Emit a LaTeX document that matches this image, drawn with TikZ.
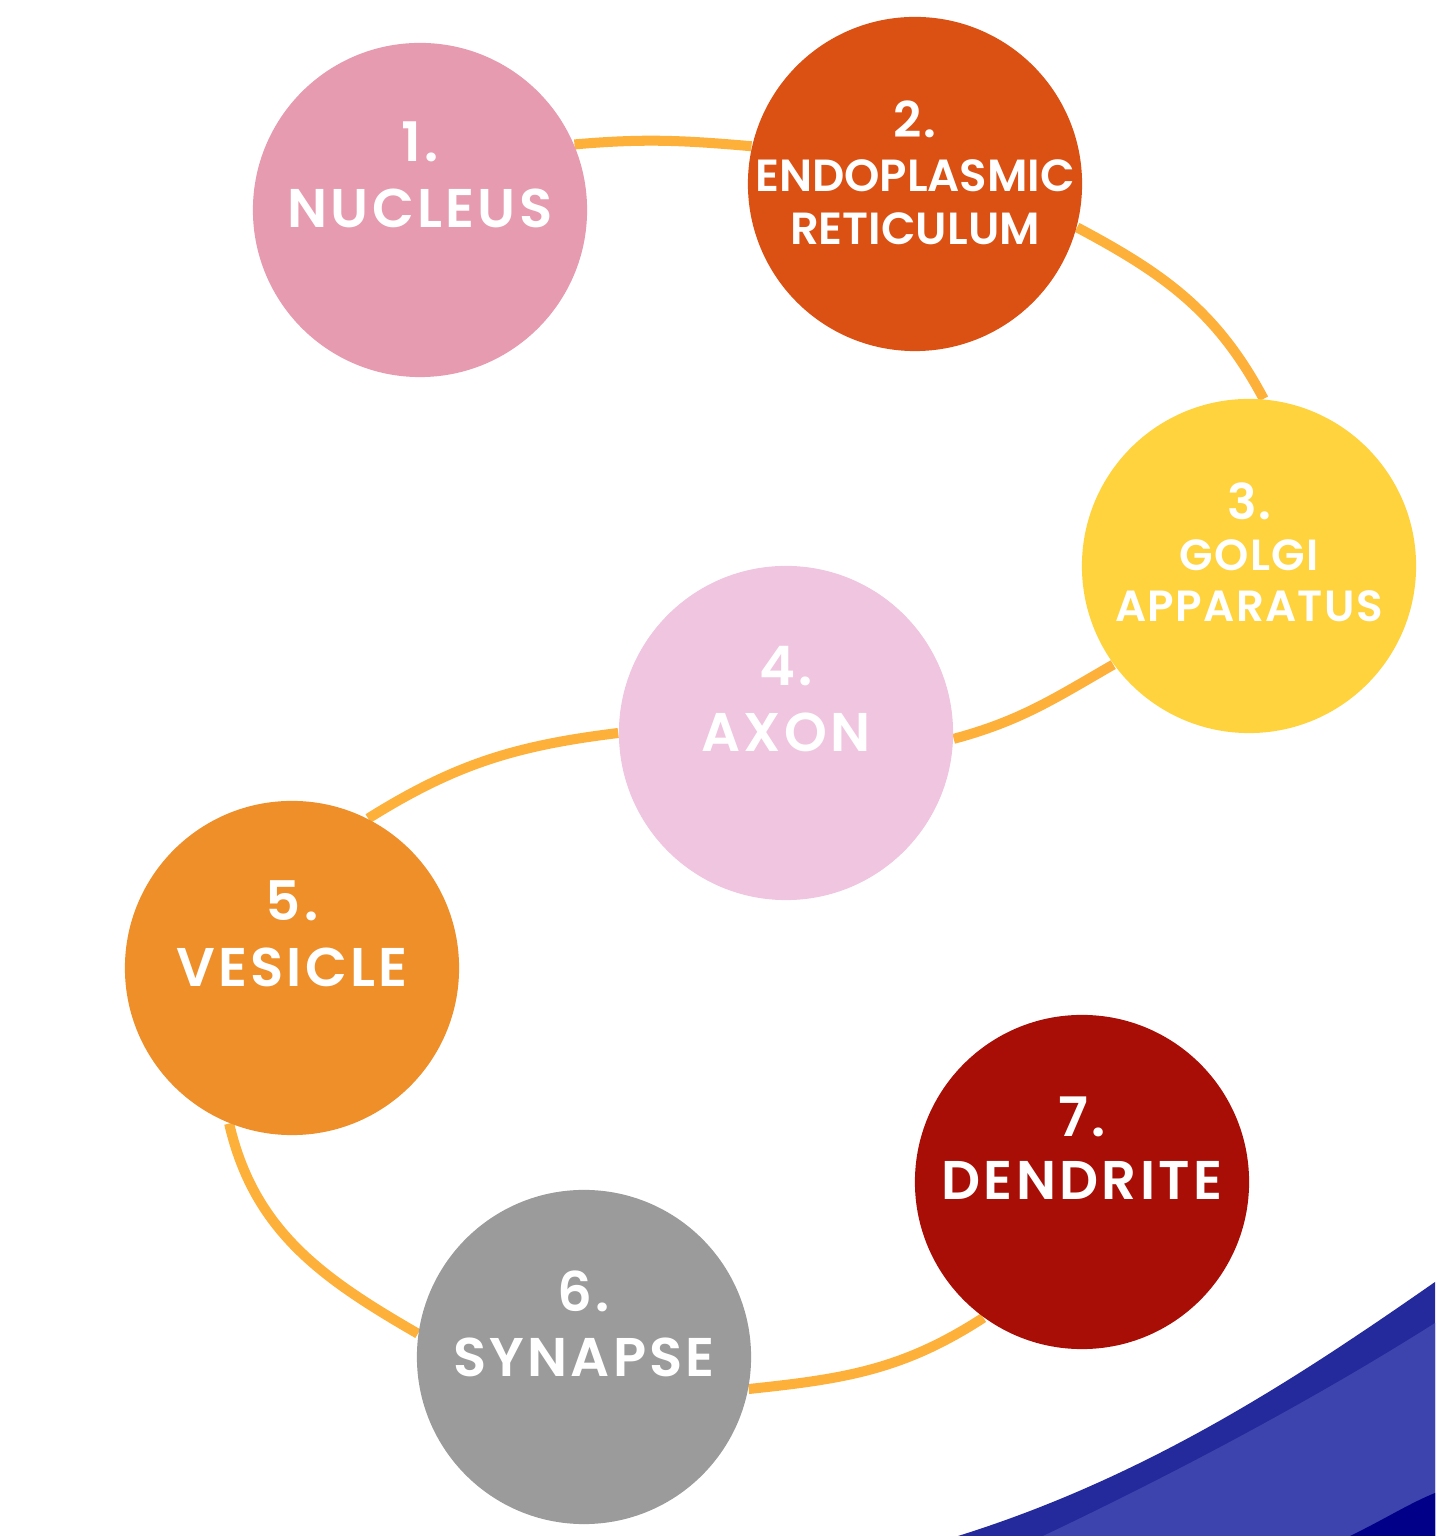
\documentclass[tikz,border=0pt]{standalone}
\usepackage{fontspec}
\setmainfont{Poppins}[BoldFont={Poppins SemiBold}]
\usetikzlibrary{backgrounds}

\definecolor{nucpink}{HTML}{E69BB0}
\definecolor{errust}{HTML}{DA5113}
\definecolor{golgiyellow}{HTML}{FFD33D}
\definecolor{axonpink}{HTML}{F0C5DF}
\definecolor{vesorange}{HTML}{EE8F2A}
\definecolor{syngray}{HTML}{9B9B9B}
\definecolor{denred}{HTML}{A90E06}
\definecolor{linkorange}{HTML}{FDB13B}
\definecolor{swooshdark}{HTML}{24299B}
\definecolor{swooshlight}{HTML}{3D44AE}
\definecolor{swooshnavy}{HTML}{000088}

\begin{document}
\begin{tikzpicture}
    [ x=0.01cm, y=0.01cm
    , cell/.style={circle, fill=#1, minimum size=3.34cm, inner sep=0pt}
    , big/.style={text=white, anchor=base, inner sep=0pt, font=\bfseries\fontsize{15.5}{18}\selectfont\addfontfeature{LetterSpace=6}}
    , small/.style={text=white, anchor=base, inner sep=0pt, font=\bfseries\fontsize{#1}{14}\selectfont\addfontfeature{LetterSpace=3}}
    , tight/.style={text=white, anchor=base, inner sep=0pt, font=\bfseries\fontsize{12.8}{14}\selectfont}
    , link/.style={draw=linkorange, line width=2.85pt}
    ]
\useasboundingbox (0,0) rectangle (1435,1536);

% swoosh in the corner
\fill[swooshdark] (958,0) .. controls (1150,60) and (1300,160) .. (1435,254) -- (1435,0) -- cycle;
\fill[swooshlight] (1043,0) .. controls (1180,65) and (1320,140) .. (1435,213) -- (1435,0) -- cycle;
\fill[swooshnavy] (1350,0) .. controls (1385,17) and (1410,33) .. (1435,43) -- (1435,0) -- cycle;

% organelles
\node[cell=nucpink]     (nuc)   at (420,1326) {};
\node[cell=errust]      (er)    at (915,1352) {};
\node[cell=golgiyellow] (golgi) at (1249,970) {};
\node[cell=axonpink]    (axon)  at (786,803)  {};
\node[cell=vesorange]   (ves)   at (292,568)  {};
\node[cell=syngray]     (syn)   at (584,179)  {};
\node[cell=denred]      (den)   at (1082,354) {};

% labels
\node[big] (nuc-n) at (420,1374) {1.};
\node[big] (nuc-l) at (420,1308) {NUCLEUS};
\node[small=14] (er-n) at (915,1398) {2.};
\node[tight] (er-l1) at (915,1344) {ENDOPLASMIC};
\node[tight] (er-l2) at (915,1291) {RETICULUM};
\node[small=14] (golgi-n) at (1249,1016) {3.};
\node[small=12.4] (golgi-l1) at (1249,965) {GOLGI};
\node[small=12.4] (golgi-l2) at (1249,914) {APPARATUS};
\node[big] (axon-n) at (786,850) {4.};
\node[big] (axon-l) at (786,784) {AXON};
\node[big] (ves-n) at (292,615) {5.};
\node[big] (ves-l) at (292,549) {VESICLE};
\node[big] (syn-n) at (584,224) {6.};
\node[big] (syn-l) at (584,159) {SYNAPSE};
\node[big] (den-n) at (1082,399) {7.};
\node[big] (den-l) at (1082,336) {DENDRITE};

\begin{scope}[on background layer]
\draw[link] (nuc.23) to[out=5,in=175] (er.167);
\draw[link] (er.-15) to[out=-28,in=118] (golgi.85);
\draw[link] (golgi.216) to[out=210,in=15] (axon.-2);
\draw[link] (axon.180) to[out=187,in=32] (ves.63);
\draw[link] (ves.248) to[out=283,in=150] (syn.172);
\draw[link] (syn.-11) to[out=6,in=213] (den.234);
\end{scope}

\end{tikzpicture}
\end{document}
